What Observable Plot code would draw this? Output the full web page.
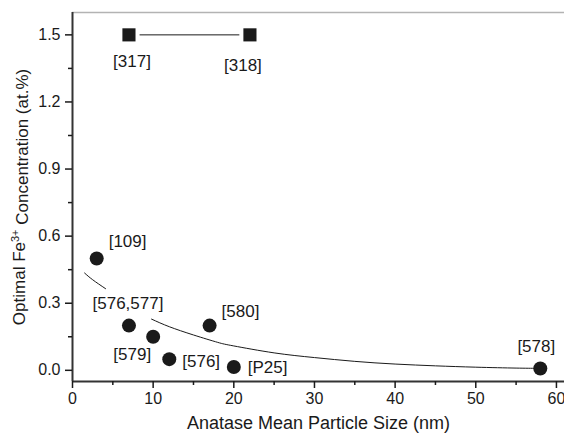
<!DOCTYPE html>
<html>
<head>
<meta charset="utf-8">
<script src="https://cdn.jsdelivr.net/npm/d3@7"></script>
<script src="https://cdn.jsdelivr.net/npm/@observablehq/plot@0.6"></script>
<style>
  html, body { margin: 0; padding: 0; background: #fff; }
  #chart svg { display: block; font-family: "Liberation Sans", Arial, sans-serif; }
</style>
</head>
<body>
<div id="chart"></div>
<script>
// Data
const circleX = [3, 7, 10, 12, 17, 20, 58];
const circleY = [0.5, 0.2, 0.15, 0.05, 0.2, 0.015, 0.008];
const circleLabels = ["[109]", "[576,577]", "[579]", "[576]", "[580]", "[P25]", "[578]"];

const squareX = [7, 22];
const squareY = [1.5, 1.5];
const squareLabels = ["[317]", "[318]"];

const fitX1 = [1.5, 2.5, 4.1];
const fitY1 = [0.435, 0.405, 0.365];
const fitX2 = [9.8, 12, 15, 18, 20, 25, 30, 35, 40, 45, 50, 55, 57.5];
const fitY2 = [0.229, 0.195, 0.158, 0.125, 0.109, 0.078, 0.057, 0.04, 0.028, 0.02, 0.014, 0.01, 0.009];

const xTicks = [0, 10, 20, 30, 40, 50, 60];
const xMinor = [5, 15, 25, 35, 45, 55];
const yTicks = [0, 0.3, 0.6, 0.9, 1.2, 1.5];
const yMinor = [0.15, 0.45, 0.75, 1.05, 1.35];

const xLabel = "Anatase Mean Particle Size (nm)";
const yLabel = "Optimal Fe3+ Concentration (at.%)";

// Build tables
const circles = circleX.map((x, i) => ({x, y: circleY[i], label: circleLabels[i]}));
const squares = squareX.map((x, i) => ({x, y: squareY[i], label: squareLabels[i]}));
const fit1 = fitX1.map((x, i) => ({x, y: fitY1[i]}));
const fit2 = fitX2.map((x, i) => ({x, y: fitY2[i]}));

// label placement (style, not data)
const circleLabelStyle = {
  "[109]": {dx: 12, dy: -17, anchor: "start"},
  "[576,577]": {dx: -1, dy: -22, anchor: "middle"},
  "[579]": {dx: -2, dy: 18, anchor: "end"},
  "[576]": {dx: 13, dy: 2, anchor: "start"},
  "[580]": {dx: 12, dy: -14, anchor: "start"},
  "[P25]": {dx: 14, dy: 1, anchor: "start"},
  "[578]": {dx: -4, dy: -22, anchor: "middle"}
};
const squareLabelStyle = {
  "[317]": {dx: 3, dy: 27},
  "[318]": {dx: -7, dy: 31}
};

const ink = "#1a1a1a";
const labelSize = 17;
const textMarks = [];
for (const c of circles) {
  const s = circleLabelStyle[c.label];
  textMarks.push(Plot.text([c], {x: "x", y: "y", text: "label", dx: s.dx, dy: s.dy, textAnchor: s.anchor, fontSize: labelSize, fill: ink}));
}
for (const q of squares) {
  const s = squareLabelStyle[q.label];
  textMarks.push(Plot.text([q], {x: "x", y: "y", text: "label", dx: s.dx, dy: s.dy, textAnchor: "middle", fontSize: labelSize, fill: ink}));
}

const chart = Plot.plot({
  width: 564,
  height: 437,
  marginTop: 12,
  marginLeft: 72,
  marginRight: 0,
  marginBottom: 56,
  style: {fontFamily: "'Liberation Sans', Arial, sans-serif", background: "#fff", color: ink},
  x: {domain: [0, 61]},
  y: {domain: [-0.05, 1.6]},
  marks: [
    // frame
    Plot.ruleY([1.6], {stroke: "#b3b3b3", strokeWidth: 1.5}),
    Plot.ruleX([0], {stroke: "#333", strokeWidth: 2}),
    Plot.ruleY([-0.05], {stroke: "#333", strokeWidth: 2}),
    // axes
    Plot.axisX({ticks: xTicks, tickSize: 7, tickPadding: 4, tickFormat: d3.format("d"), fontSize: 16, strokeWidth: 1.5, label: xLabel, labelAnchor: "center", labelArrow: "none", labelOffset: 47}),
    Plot.axisX({ticks: xMinor, tickSize: 4, text: null, label: null, strokeWidth: 1.5}),
    Plot.axisY({ticks: yTicks, tickSize: 7, tickPadding: 5, tickFormat: d3.format(".1f"), fontSize: 16, strokeWidth: 1.5, label: yLabel, labelAnchor: "center", labelArrow: "none", labelOffset: 60}),
    Plot.axisY({ticks: yMinor, tickSize: 4, text: null, label: null, strokeWidth: 1.5}),
    // fitted curve
    Plot.line(fit1, {x: "x", y: "y", stroke: ink, strokeWidth: 1, curve: "natural"}),
    Plot.line(fit2, {x: "x", y: "y", stroke: ink, strokeWidth: 1, curve: "natural"}),
    // square pair line
    Plot.arrow([{x1: squareX[0], y1: squareY[0], x2: squareX[1], y2: squareY[1]}], {x1: "x1", y1: "y1", x2: "x2", y2: "y2", headLength: 0, inset: 11, stroke: ink, strokeWidth: 1}),
    Plot.dot(squares, {x: "x", y: "y", symbol: "square", r: 7.4, fill: ink, stroke: "none"}),
    Plot.dot(circles, {x: "x", y: "y", r: 7, fill: ink, stroke: "none"}),
    ...textMarks
  ]
});

// style the axis labels (font size, superscript)
d3.select(chart).selectAll("g[aria-label='x-axis label'] text").attr("font-size", 18);
d3.select(chart).selectAll("g[aria-label='y-axis label'] text").attr("font-size", 17).each(function() {
  const t = d3.select(this);
  if (t.text() === yLabel) {
    t.text(null);
    t.append("tspan").text("Optimal Fe");
    t.append("tspan").attr("font-size", 11).attr("dy", "-0.55em").text("3+");
    t.append("tspan").attr("dy", "0.55em").text(" Concentration (at.%)");
  }
});

document.getElementById("chart").appendChild(chart);
</script>
</body>
</html>
